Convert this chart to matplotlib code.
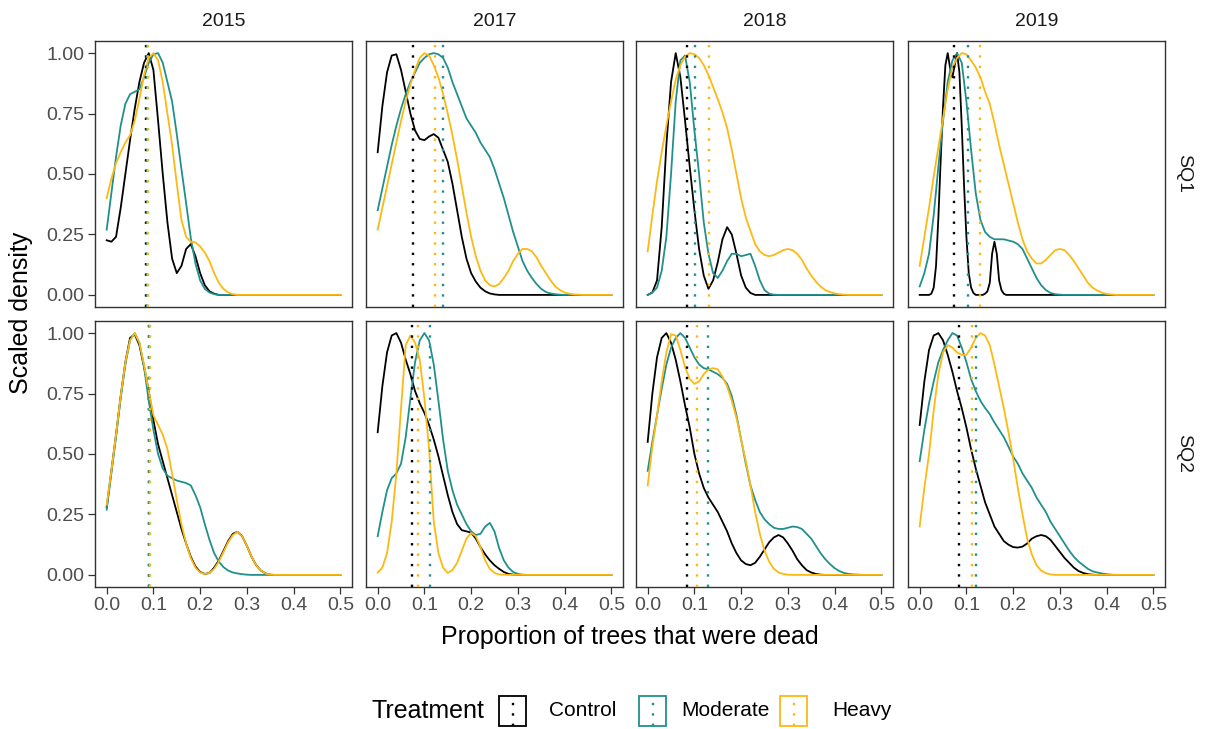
import numpy as np
import matplotlib
matplotlib.use("Agg")
import matplotlib.pyplot as plt
from matplotlib.lines import Line2D
from matplotlib.patches import Rectangle

plt.rcParams['font.family'] = ['Liberation Sans', 'DejaVu Sans']

# ---- data -------------------------------------------------------------------
years = ['2015', '2017', '2018', '2019']
sites = ['SQ1', 'SQ2']
treatments = ['Control', 'Moderate', 'Heavy']
colors = {'Control': '#000000', 'Moderate': '#21908C', 'Heavy': '#FDB913'}

# proportion of dead trees at which each density was evaluated
prop_grid = np.round(np.arange(0, 0.505, 0.01), 2)
prop_fine = np.round(np.arange(0, 0.19, 0.005), 3)

# scaled densities, SQ1
control_2015_sq1 = [0.226, 0.22, 0.24, 0.36, 0.50, 0.64, 0.77, 0.88, 0.96, 1.0, 0.93, 0.72, 0.50,
                    0.30, 0.15, 0.09, 0.12, 0.19, 0.21, 0.16, 0.09, 0.04, 0.015, 0.005, 0]
moderate_2015_sq1 = [0.27, 0.42, 0.57, 0.70, 0.79, 0.83, 0.84, 0.85, 0.90, 0.96, 0.995, 1.0, 0.96,
                     0.88, 0.80, 0.665, 0.52, 0.38, 0.235, 0.13, 0.06, 0.025, 0.01, 0.003, 0]
heavy_2015_sq1 = [0.40, 0.48, 0.545, 0.59, 0.63, 0.66, 0.72, 0.81, 0.91, 0.98, 1.0, 0.97, 0.88, 0.75,
                  0.62, 0.46, 0.31, 0.24, 0.22, 0.217, 0.20, 0.175, 0.14, 0.09, 0.05, 0.025, 0.01,
                  0.003, 0]

control_2017_sq1 = [0.59, 0.78, 0.92, 0.99, 0.995, 0.93, 0.84, 0.75, 0.68, 0.645, 0.64, 0.655, 0.665,
                    0.65, 0.60, 0.55, 0.46, 0.35, 0.24, 0.15, 0.09, 0.055, 0.03, 0.015, 0.006, 0.002, 0]
moderate_2017_sq1 = [0.35, 0.44, 0.53, 0.62, 0.70, 0.77, 0.83, 0.88, 0.92, 0.96, 0.98, 0.995, 1.0,
                     0.995, 0.98, 0.94, 0.88, 0.83, 0.78, 0.73, 0.70, 0.67, 0.63, 0.60, 0.57, 0.52,
                     0.46, 0.40, 0.33, 0.26, 0.20, 0.14, 0.10, 0.07, 0.045, 0.025, 0.012, 0.006,
                     0.003, 0.001, 0]
heavy_2017_sq1 = [0.27, 0.36, 0.45, 0.54, 0.63, 0.72, 0.80, 0.87, 0.93, 0.98, 1.0, 0.99, 0.95, 0.90,
                  0.83, 0.75, 0.66, 0.56, 0.45, 0.34, 0.24, 0.16, 0.10, 0.06, 0.04, 0.035, 0.045,
                  0.07, 0.10, 0.14, 0.17, 0.19, 0.19, 0.18, 0.155, 0.12, 0.09, 0.06, 0.035, 0.02,
                  0.01, 0.005, 0.002, 0.001, 0]

control_2018_sq1 = [0.0, 0.01, 0.06, 0.28, 0.62, 0.88, 1.0, 0.90, 0.72, 0.53, 0.35, 0.19, 0.08, 0.025,
                    0.06, 0.135, 0.23, 0.28, 0.25, 0.17, 0.08, 0.03, 0.008, 0]
moderate_2018_sq1 = [0.0, 0.01, 0.03, 0.10, 0.24, 0.50, 0.80, 0.97, 0.99, 0.88, 0.68, 0.50, 0.30,
                     0.17, 0.09, 0.07, 0.10, 0.14, 0.17, 0.17, 0.16, 0.165, 0.17, 0.12, 0.06, 0.02,
                     0.005, 0.001, 0]
heavy_2018_sq1 = [0.18, 0.33, 0.47, 0.59, 0.70, 0.80, 0.89, 0.95, 0.985, 1.0, 0.995, 0.98, 0.95,
                  0.91, 0.86, 0.81, 0.755, 0.69, 0.60, 0.50, 0.40, 0.32, 0.265, 0.21, 0.18, 0.165,
                  0.16, 0.165, 0.175, 0.185, 0.19, 0.185, 0.17, 0.145, 0.11, 0.08, 0.055, 0.035,
                  0.02, 0.012, 0.006, 0.003, 0.001, 0]

# this one is sampled every 0.005 (prop_fine) because of its narrow peaks
control_2019_sq1 = [0, 0, 0, 0, 0, 0.005, 0.03, 0.12, 0.32, 0.56, 0.78, 0.95, 1.0, 0.94, 0.90, 0.95,
                    1.0, 0.92, 0.70, 0.45, 0.24, 0.09, 0.03, 0.008, 0, 0, 0, 0, 0.005, 0.015, 0.05,
                    0.17, 0.22, 0.17, 0.06, 0.02, 0.005, 0]
moderate_2019_sq1 = [0.035, 0.09, 0.17, 0.33, 0.53, 0.72, 0.88, 0.97, 1.0, 0.96, 0.80, 0.60, 0.42,
                     0.31, 0.26, 0.24, 0.23, 0.23, 0.23, 0.225, 0.22, 0.21, 0.19, 0.15, 0.11, 0.07,
                     0.04, 0.02, 0.008, 0.003, 0.001, 0]
heavy_2019_sq1 = [0.12, 0.24, 0.36, 0.49, 0.61, 0.73, 0.85, 0.94, 0.98, 1.0, 0.995, 0.97, 0.94, 0.90,
                  0.84, 0.79, 0.71, 0.62, 0.54, 0.46, 0.38, 0.30, 0.23, 0.18, 0.15, 0.13, 0.13,
                  0.145, 0.165, 0.185, 0.19, 0.185, 0.165, 0.14, 0.11, 0.08, 0.05, 0.03, 0.018,
                  0.009, 0.004, 0.002, 0]

# scaled densities, SQ2
control_2015_sq2 = [0.28, 0.43, 0.58, 0.74, 0.88, 0.98, 0.995, 0.95, 0.86, 0.76, 0.64, 0.54, 0.47,
                    0.40, 0.33, 0.26, 0.19, 0.13, 0.075, 0.035, 0.012, 0.004, 0.008, 0.03, 0.06,
                    0.10, 0.14, 0.17, 0.178, 0.16, 0.12, 0.075, 0.04, 0.018, 0.006, 0.001, 0]
moderate_2015_sq2 = [0.27, 0.42, 0.57, 0.73, 0.87, 0.97, 1.0, 0.96, 0.86, 0.72, 0.60, 0.50, 0.44,
                     0.41, 0.40, 0.39, 0.385, 0.38, 0.37, 0.33, 0.28, 0.21, 0.145, 0.09, 0.055,
                     0.032, 0.018, 0.01, 0.006, 0.003, 0.001, 0]
heavy_2015_sq2 = [0.29, 0.43, 0.58, 0.74, 0.88, 0.97, 1.0, 0.96, 0.87, 0.76, 0.66, 0.62, 0.58, 0.52,
                  0.42, 0.31, 0.21, 0.13, 0.07, 0.03, 0.01, 0.004, 0.008, 0.025, 0.055, 0.095,
                  0.135, 0.165, 0.178, 0.16, 0.12, 0.075, 0.04, 0.018, 0.006, 0.001, 0]

control_2017_sq2 = [0.59, 0.78, 0.92, 0.99, 1.0, 0.96, 0.89, 0.83, 0.76, 0.71, 0.67, 0.62, 0.56,
                    0.49, 0.41, 0.33, 0.26, 0.21, 0.185, 0.18, 0.175, 0.15, 0.115, 0.085, 0.06,
                    0.04, 0.025, 0.012, 0.004, 0.001, 0]
moderate_2017_sq2 = [0.16, 0.26, 0.35, 0.40, 0.42, 0.46, 0.57, 0.73, 0.88, 0.97, 1.0, 0.97, 0.87,
                     0.72, 0.56, 0.43, 0.35, 0.29, 0.25, 0.21, 0.18, 0.165, 0.17, 0.20, 0.215, 0.18,
                     0.11, 0.06, 0.03, 0.012, 0.004, 0.001, 0]
heavy_2017_sq2 = [0.01, 0.03, 0.09, 0.22, 0.42, 0.69, 0.95, 0.99, 0.96, 0.89, 0.73, 0.52, 0.22, 0.09,
                  0.03, 0.008, 0.02, 0.05, 0.10, 0.15, 0.174, 0.16, 0.115, 0.06, 0.025, 0.008,
                  0.002, 0.001, 0]

control_2018_sq2 = [0.55, 0.75, 0.90, 0.98, 1.0, 0.96, 0.89, 0.80, 0.70, 0.61, 0.50, 0.42, 0.36,
                    0.32, 0.29, 0.26, 0.22, 0.18, 0.13, 0.09, 0.06, 0.045, 0.04, 0.05, 0.075, 0.105,
                    0.135, 0.155, 0.165, 0.155, 0.13, 0.10, 0.065, 0.04, 0.02, 0.01, 0.004, 0.001, 0]
moderate_2018_sq2 = [0.43, 0.55, 0.66, 0.77, 0.87, 0.94, 0.98, 1.0, 0.98, 0.94, 0.90, 0.87, 0.855,
                     0.85, 0.84, 0.83, 0.815, 0.79, 0.74, 0.66, 0.56, 0.46, 0.37, 0.31, 0.26, 0.23,
                     0.21, 0.195, 0.19, 0.19, 0.195, 0.2, 0.198, 0.19, 0.17, 0.15, 0.12, 0.09, 0.065,
                     0.045, 0.028, 0.016, 0.008, 0.004, 0.002, 0.001, 0]
heavy_2018_sq2 = [0.37, 0.53, 0.66, 0.80, 0.92, 0.995, 0.99, 0.93, 0.86, 0.81, 0.79, 0.80, 0.83,
                  0.85, 0.855, 0.85, 0.82, 0.78, 0.72, 0.65, 0.56, 0.47, 0.37, 0.26, 0.17, 0.10,
                  0.055, 0.025, 0.01, 0.004, 0.001, 0]

control_2019_sq2 = [0.62, 0.80, 0.93, 0.99, 1.0, 0.97, 0.91, 0.84, 0.76, 0.69, 0.61, 0.52, 0.44,
                    0.37, 0.30, 0.25, 0.20, 0.17, 0.14, 0.125, 0.115, 0.113, 0.117, 0.13, 0.15, 0.16,
                    0.165, 0.16, 0.145, 0.12, 0.095, 0.07, 0.05, 0.03, 0.016, 0.008, 0.003, 0.001, 0]
moderate_2019_sq2 = [0.47, 0.60, 0.71, 0.80, 0.88, 0.93, 0.97, 1.0, 0.99, 0.94, 0.88, 0.81, 0.76,
                     0.72, 0.69, 0.665, 0.63, 0.60, 0.57, 0.53, 0.49, 0.46, 0.42, 0.39, 0.36, 0.32,
                     0.29, 0.26, 0.22, 0.19, 0.16, 0.13, 0.10, 0.075, 0.055, 0.04, 0.025, 0.015,
                     0.01, 0.006, 0.003, 0.001, 0]
heavy_2019_sq2 = [0.20, 0.36, 0.50, 0.68, 0.83, 0.92, 0.95, 0.94, 0.92, 0.91, 0.91, 0.94, 0.98, 1.0,
                  0.99, 0.95, 0.87, 0.78, 0.69, 0.59, 0.48, 0.36, 0.25, 0.15, 0.085, 0.04, 0.018,
                  0.007, 0.002, 0]

# dotted reference lines per treatment, one value per year
control_mark_sq1 = [0.085, 0.076, 0.084, 0.073]
moderate_mark_sq1 = [0.087, 0.139, 0.102, 0.104]
heavy_mark_sq1 = [0.089, 0.123, 0.132, 0.130]
control_mark_sq2 = [0.090, 0.073, 0.084, 0.084]
moderate_mark_sq2 = [0.091, 0.113, 0.129, 0.121]
heavy_mark_sq2 = [0.092, 0.086, 0.106, 0.112]

x_ticks = [0.0, 0.1, 0.2, 0.3, 0.4, 0.5]
y_ticks = [0.0, 0.25, 0.50, 0.75, 1.0]

# (values, x positions) per panel, in Control / Moderate / Heavy order
curves = {
    ('SQ1', '2015'): [(control_2015_sq1, prop_grid), (moderate_2015_sq1, prop_grid), (heavy_2015_sq1, prop_grid)],
    ('SQ1', '2017'): [(control_2017_sq1, prop_grid), (moderate_2017_sq1, prop_grid), (heavy_2017_sq1, prop_grid)],
    ('SQ1', '2018'): [(control_2018_sq1, prop_grid), (moderate_2018_sq1, prop_grid), (heavy_2018_sq1, prop_grid)],
    ('SQ1', '2019'): [(control_2019_sq1, prop_fine), (moderate_2019_sq1, prop_grid), (heavy_2019_sq1, prop_grid)],
    ('SQ2', '2015'): [(control_2015_sq2, prop_grid), (moderate_2015_sq2, prop_grid), (heavy_2015_sq2, prop_grid)],
    ('SQ2', '2017'): [(control_2017_sq2, prop_grid), (moderate_2017_sq2, prop_grid), (heavy_2017_sq2, prop_grid)],
    ('SQ2', '2018'): [(control_2018_sq2, prop_grid), (moderate_2018_sq2, prop_grid), (heavy_2018_sq2, prop_grid)],
    ('SQ2', '2019'): [(control_2019_sq2, prop_grid), (moderate_2019_sq2, prop_grid), (heavy_2019_sq2, prop_grid)],
}
marks = {
    'SQ1': [control_mark_sq1, moderate_mark_sq1, heavy_mark_sq1],
    'SQ2': [control_mark_sq2, moderate_mark_sq2, heavy_mark_sq2],
}


def as_xy(vals, grid):
    """Pair density values with their x positions and run the flat tail out to 0.5."""
    vals = np.asarray(vals, dtype=float)
    xs = grid[:len(vals)]
    return np.append(xs, 0.5), np.append(vals, 0.0)


# ---- layout (pixel based) --------------------------------------------------
W, H = 1205, 729
fig = plt.figure(figsize=(W / 100, H / 100), dpi=100, facecolor='white')

col_left = [95, 366, 636, 908]
row_top = [41, 321]
pw, ph = 257, 266

GREY20 = '#333333'
GREY30 = '#4D4D4D'
DOTS = (0, (1, 3.4))

for r, site in enumerate(sites):
    for c, year in enumerate(years):
        ax = fig.add_axes([col_left[c] / W, 1 - (row_top[r] + ph) / H, pw / W, ph / H])
        ax.set_xlim(-0.025, 0.525)
        ax.set_ylim(-0.05, 1.05)
        for sp in ax.spines.values():
            sp.set_color(GREY20)
            sp.set_linewidth(1.0)

        for t, (vals, grid) in zip(treatments, curves[(site, year)]):
            xs, ys = as_xy(vals, grid)
            ax.plot(xs, ys, color=colors[t], lw=1.3, solid_joinstyle='round', zorder=3)

        for t, mk in zip(treatments, marks[site]):
            ax.axvline(mk[c], color=colors[t], lw=1.7, linestyle=DOTS,
                       dash_capstyle='butt', zorder=4)

        ax.set_xticks(x_ticks)
        ax.set_yticks(y_ticks)
        ax.tick_params(direction='out', length=5, width=0.9, color=GREY20,
                       labelsize=14, labelcolor=GREY30, pad=2.5)
        if r == 1:
            ax.set_xticklabels([f'{v:.1f}' for v in x_ticks])
        else:
            ax.tick_params(axis='x', length=0, labelbottom=False)
        if c == 0:
            ax.set_yticklabels([f'{v:.2f}' for v in y_ticks])
        else:
            ax.tick_params(axis='y', length=0, labelleft=False)

        if r == 0:
            fig.text((col_left[c] + pw / 2) / W, 1 - 22 / H, year, ha='center', va='center',
                     fontsize=14, color='#1A1A1A')
        if c == 3:
            fig.text(1184 / W, 1 - (row_top[r] + ph / 2) / H, site, ha='center', va='center',
                     rotation=-90, fontsize=14, color='#1A1A1A')

# axis titles
fig.text(630 / W, 1 - 637 / H, 'Proportion of trees that were dead', ha='center', va='center',
         fontsize=18, color='black')
fig.text(21 / W, 1 - 313 / H, 'Scaled density', ha='center', va='center', rotation=90,
         fontsize=18, color='black')

# legend
leg_y = 711
fig.text(484 / W, 1 - leg_y / H, 'Treatment', ha='right', va='center', fontsize=18, color='black')
key_left = [499, 639, 780]
label_left = [549, 681, 832]
kw, kh = 27, 30
for t, kl, ll in zip(treatments, key_left, label_left):
    fig.patches.append(Rectangle((kl / W, 1 - (leg_y + kh / 2) / H), kw / W, kh / H,
                                 transform=fig.transFigure, fill=False, edgecolor=colors[t],
                                 lw=1.3))
    fig.lines.append(Line2D([(kl + kw / 2) / W] * 2,
                            [1 - (leg_y + kh / 2) / H, 1 - (leg_y - kh / 2) / H],
                            transform=fig.transFigure, color=colors[t], lw=1.7,
                            linestyle=DOTS, dash_capstyle='butt'))
    fig.text(ll / W, 1 - leg_y / H, t, ha='left', va='center', fontsize=15, color='black')

fig.savefig('out.png', dpi=100, facecolor='white')
